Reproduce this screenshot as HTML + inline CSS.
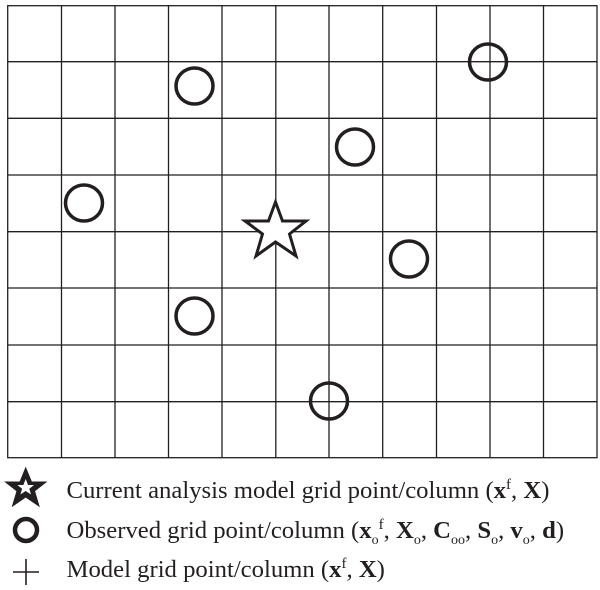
<!DOCTYPE html>
<html><head><style>
html,body{margin:0;padding:0;background:#fff;}
svg{display:block;}
text{font-family:"Liberation Serif",serif;font-size:24.7px;fill:#231f20;}
</style></head><body>
<svg width="600" height="590" viewBox="0 0 600 590" xmlns="http://www.w3.org/2000/svg">
<g stroke="#231f20" stroke-width="1.3" fill="none">
<rect x="7.7" y="5.7" width="589.3" height="452"/>
<line x1="61.5" y1="5.7" x2="61.5" y2="457.7"/>
<line x1="115" y1="5.7" x2="115" y2="457.7"/>
<line x1="168.5" y1="5.7" x2="168.5" y2="457.7"/>
<line x1="222" y1="5.7" x2="222" y2="457.7"/>
<line x1="275.8" y1="5.7" x2="275.8" y2="457.7"/>
<line x1="329" y1="5.7" x2="329" y2="457.7"/>
<line x1="382.7" y1="5.7" x2="382.7" y2="457.7"/>
<line x1="436.5" y1="5.7" x2="436.5" y2="457.7"/>
<line x1="490" y1="5.7" x2="490" y2="457.7"/>
<line x1="543.5" y1="5.7" x2="543.5" y2="457.7"/>
<line x1="7.7" y1="61.7" x2="597" y2="61.7"/>
<line x1="7.7" y1="118.3" x2="597" y2="118.3"/>
<line x1="7.7" y1="175" x2="597" y2="175"/>
<line x1="7.7" y1="231.7" x2="597" y2="231.7"/>
<line x1="7.7" y1="288" x2="597" y2="288"/>
<line x1="7.7" y1="345" x2="597" y2="345"/>
<line x1="7.7" y1="401.7" x2="597" y2="401.7"/>
</g>
<g stroke="#231f20" stroke-width="3.5" fill="none">
<ellipse cx="194.5" cy="86" rx="18.5" ry="18"/>
<ellipse cx="488" cy="62" rx="18.5" ry="18"/>
<ellipse cx="355" cy="147" rx="18.5" ry="18"/>
<ellipse cx="84" cy="203" rx="18.5" ry="18"/>
<ellipse cx="409" cy="259" rx="18.5" ry="18"/>
<ellipse cx="194.5" cy="316" rx="18.5" ry="18"/>
<ellipse cx="329" cy="401" rx="18.5" ry="18"/>
</g>
<polygon points="275.5,202 282.5,221 306,221 289.5,234 296,256 275.5,242 256,256 262.5,234 245,221 268.5,221" fill="#fff" stroke="#231f20" stroke-width="3"/>
<polygon points="25.7,468 31.5,482 46,482 34.5,491 39,506 25.7,497 12.5,506 17,491 5.5,482 20,482" fill="#231f20" stroke="#231f20" stroke-width="1"/>
<polygon points="25.7,479 28,485 34,485 29.3,488.8 31,494.5 25.7,491 20.4,494.5 22.1,488.8 17.4,485 23.4,485" fill="#fff"/>
<circle cx="26" cy="530" r="11" fill="none" stroke="#231f20" stroke-width="4.5"/>
<line x1="13" y1="572" x2="39" y2="572" stroke="#231f20" stroke-width="1.6"/>
<line x1="26" y1="559" x2="26" y2="585" stroke="#231f20" stroke-width="1.6"/>
<text x="66.5" y="498">Current analysis model grid point/column (<tspan font-weight="bold">x</tspan><tspan font-size="15" dy="-9">f</tspan><tspan dy="9">, </tspan><tspan font-weight="bold">X</tspan>)</text>
<text x="66.5" y="538">Observed grid point/column (<tspan font-weight="bold">x</tspan><tspan font-size="14" dy="6">o</tspan><tspan font-size="15" dy="-15">f</tspan><tspan dy="9">, </tspan><tspan font-weight="bold">X</tspan><tspan font-size="14" dy="6">o</tspan><tspan dy="-6">, </tspan><tspan font-weight="bold">C</tspan><tspan font-size="14" dy="6">oo</tspan><tspan dy="-6">, </tspan><tspan font-weight="bold">S</tspan><tspan font-size="14" dy="6">o</tspan><tspan dy="-6">, </tspan><tspan font-weight="bold">v</tspan><tspan font-size="14" dy="6">o</tspan><tspan dy="-6">, </tspan><tspan font-weight="bold">d</tspan>)</text>
<text x="66.5" y="577">Model grid point/column (<tspan font-weight="bold">x</tspan><tspan font-size="15" dy="-9">f</tspan><tspan dy="9">, </tspan><tspan font-weight="bold">X</tspan>)</text>
</svg>
</body></html>
